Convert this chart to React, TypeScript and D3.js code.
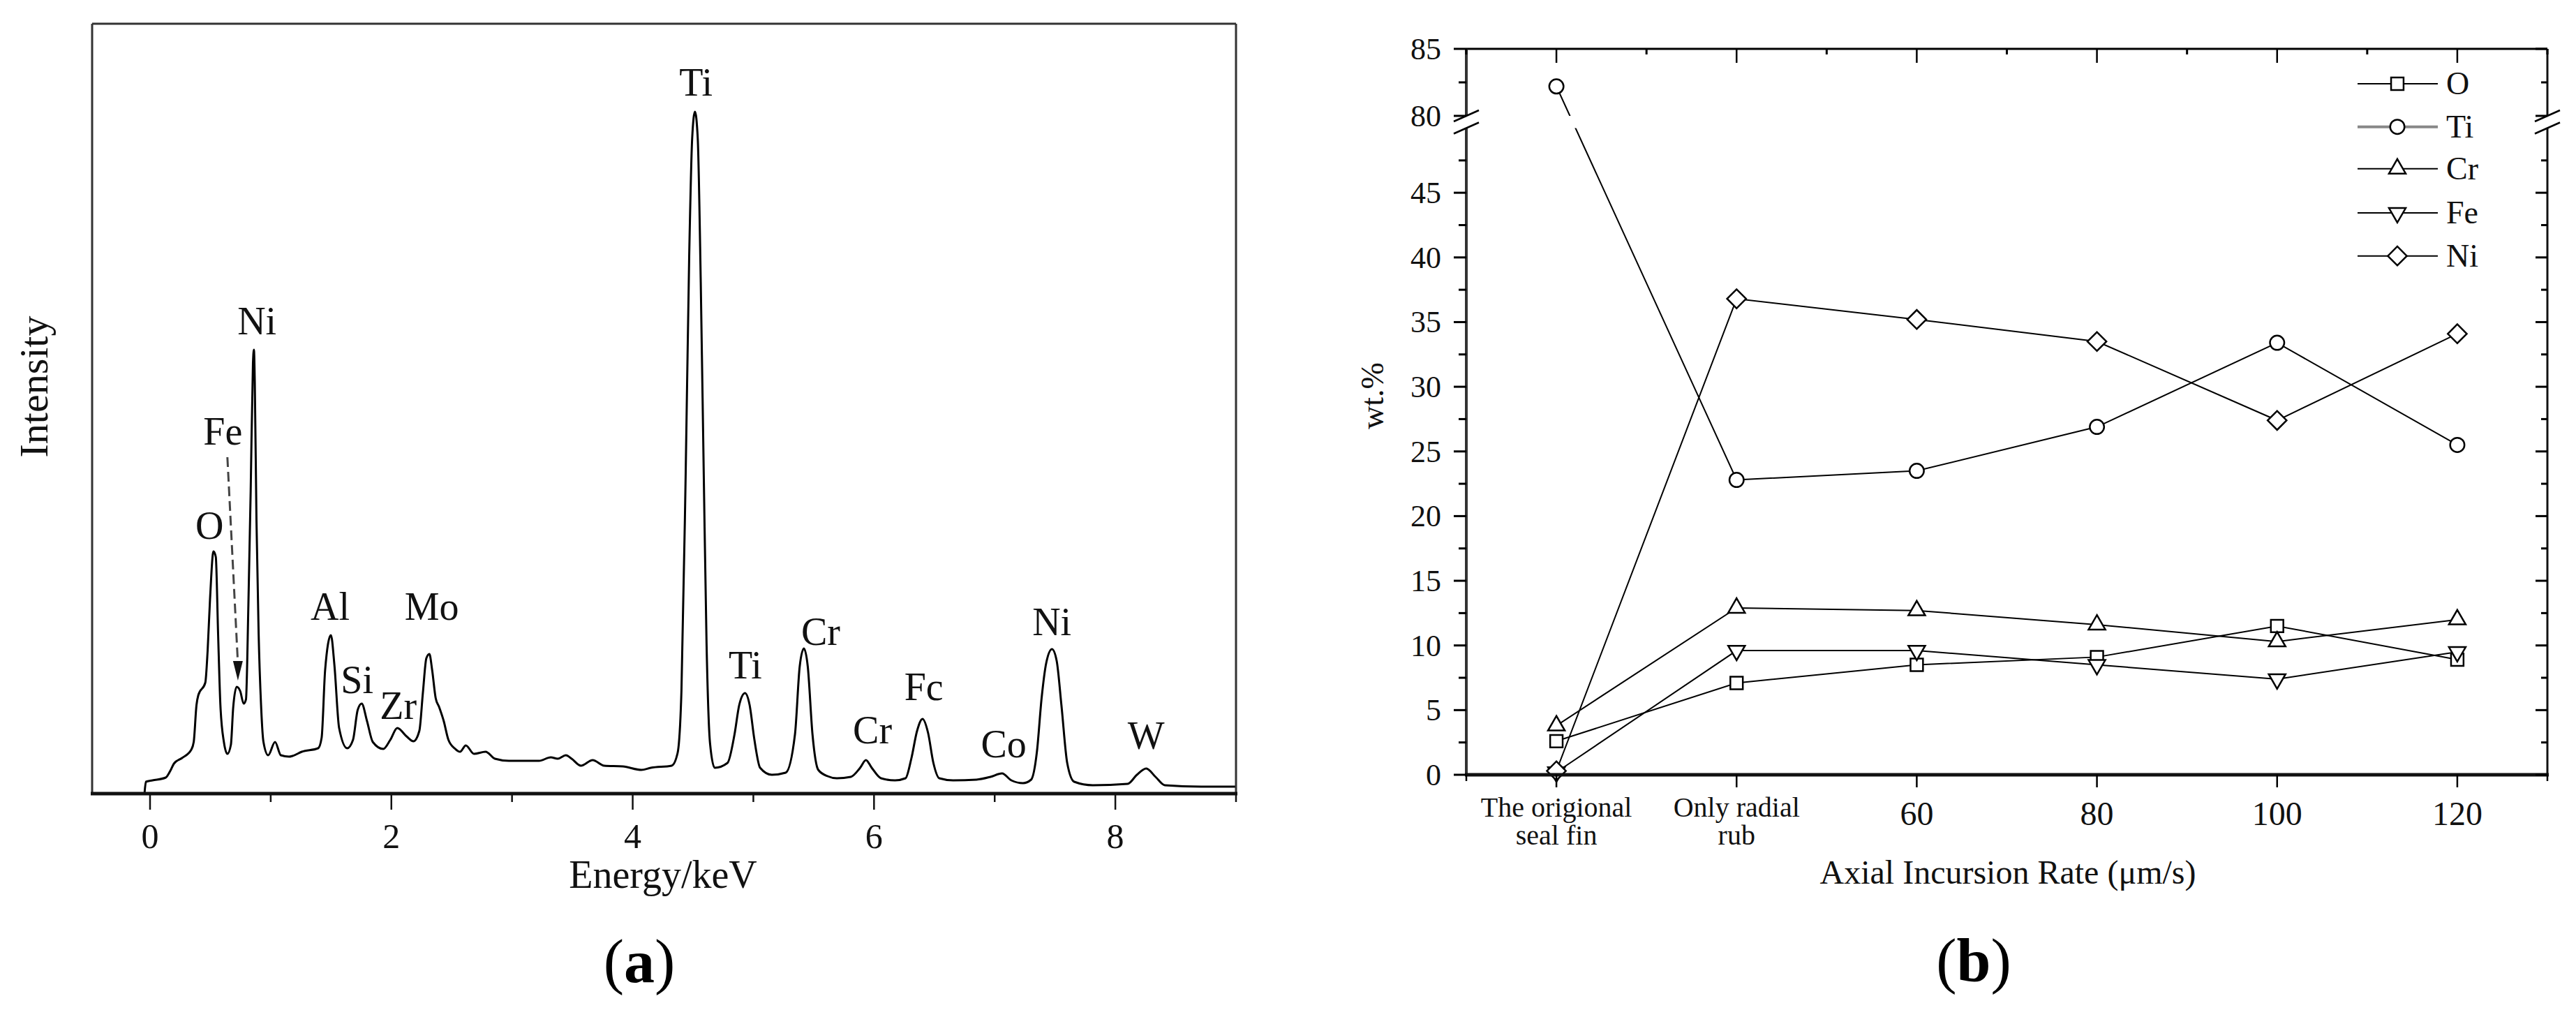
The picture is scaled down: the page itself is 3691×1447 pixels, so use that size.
import React from 'react';
import * as d3 from 'd3';

// ---------------- Panel (a): EDS spectrum ----------------
const spectrum: [number, number][] = [
  [-0.045, 2], [-0.034, 17], [0.02, 19], [0.13, 23], [0.169, 33], [0.198, 43], [0.265, 51],
  [0.342, 63], [0.362, 74], [0.385, 127], [0.4, 141], [0.458, 159], [0.477, 204], [0.497, 278],
  [0.526, 347], [0.545, 339], [0.564, 229], [0.583, 127], [0.612, 74], [0.641, 57], [0.67, 70],
  [0.689, 123], [0.718, 153], [0.747, 147], [0.776, 129], [0.795, 135], [0.815, 270], [0.834, 433],
  [0.853, 617], [0.861, 636], [0.868, 590], [0.882, 392], [0.9, 229], [0.92, 127], [0.94, 74],
  [0.979, 55], [1.036, 74], [1.084, 55], [1.152, 53], [1.181, 54], [1.258, 60], [1.393, 65],
  [1.422, 80], [1.451, 177], [1.499, 227], [1.528, 184], [1.567, 94], [1.634, 65], [1.682, 77],
  [1.721, 120], [1.754, 129], [1.798, 104], [1.846, 74], [1.933, 64], [1.991, 77], [2.049, 94],
  [2.126, 82], [2.183, 75], [2.232, 90], [2.261, 144], [2.29, 194], [2.315, 200], [2.338, 177],
  [2.367, 137], [2.396, 124], [2.434, 104], [2.473, 77], [2.53, 64], [2.569, 60], [2.617, 69],
  [2.685, 57], [2.781, 60], [2.858, 50], [2.974, 47], [3.109, 47], [3.224, 47], [3.321, 52],
  [3.379, 50], [3.446, 55], [3.494, 50], [3.571, 40], [3.668, 48], [3.764, 40], [3.918, 39],
  [4.073, 34], [4.15, 37], [4.323, 40], [4.372, 58], [4.404, 147], [4.439, 457], [4.468, 767],
  [4.493, 939], [4.516, 977], [4.539, 939], [4.564, 733], [4.589, 457], [4.612, 216], [4.641, 72],
  [4.68, 37], [4.786, 44], [4.844, 85], [4.883, 127], [4.931, 144], [4.969, 127], [5.008, 78],
  [5.056, 37], [5.153, 27], [5.268, 30], [5.345, 85], [5.384, 182], [5.419, 208], [5.451, 182],
  [5.49, 85], [5.538, 34], [5.615, 25], [5.692, 22], [5.808, 24], [5.885, 37], [5.933, 48],
  [5.981, 37], [6.058, 22], [6.174, 19], [6.261, 22], [6.309, 50], [6.357, 90], [6.402, 107],
  [6.448, 87], [6.492, 44], [6.541, 22], [6.656, 19], [6.849, 20], [6.965, 24], [7.061, 29],
  [7.138, 19], [7.235, 15], [7.302, 20], [7.35, 60], [7.389, 137], [7.427, 187], [7.475, 207],
  [7.514, 190], [7.553, 127], [7.601, 44], [7.659, 17], [7.813, 12], [8.102, 14], [8.179, 27],
  [8.256, 36], [8.333, 24], [8.41, 12], [8.711, 10], [9.0, 10],
];
const energyTicks = [0, 2, 4, 6, 8];
const energyMinorTicks = [1, 3, 5, 7, 9];
const peakLabels: { text: string; e: number; i: number }[] = [
  { text: 'O', e: 0.493, i: 365 },
  { text: 'Fe', e: 0.603, i: 500 },
  { text: 'Ni', e: 0.886, i: 658 },
  { text: 'Al', e: 1.492, i: 249 },
  { text: 'Si', e: 1.716, i: 144 },
  { text: 'Zr', e: 2.057, i: 107 },
  { text: 'Mo', e: 2.335, i: 249 },
  { text: 'Ti', e: 4.524, i: 1000 },
  { text: 'Ti', e: 4.933, i: 165 },
  { text: 'Cr', e: 5.558, i: 213 },
  { text: 'Cr', e: 5.987, i: 72 },
  { text: 'Fc', e: 6.413, i: 134 },
  { text: 'Co', e: 7.075, i: 52 },
  { text: 'Ni', e: 7.474, i: 227 },
  { text: 'W', e: 8.255, i: 64 },
];
const feArrowStart: [number, number] = [0.641, 482];
const feArrowBase: [number, number] = [0.727, 190];
const feArrowTip: [number, number] = [0.728, 162];

// ---------------- Panel (b): composition ----------------
const categories: string[][] = [
  ['The origional', 'seal fin'],
  ['Only radial', 'rub'],
  ['60'],
  ['80'],
  ['100'],
  ['120'],
];
const seriesNames = ['O', 'Ti', 'Cr', 'Fe', 'Ni'];
const oValues = [2.6, 7.1, 8.5, 9.1, 11.5, 8.9];
const tiValues = [82.2, 22.8, 23.5, 26.9, 33.4, 25.5];
const crValues = [3.8, 12.9, 12.7, 11.6, 10.3, 12.0];
const feValues = [0.2, 9.6, 9.6, 8.5, 7.4, 9.5];
const niValues = [0.3, 36.8, 35.2, 33.5, 27.4, 34.1];
const lowerTickLabels = [0, 5, 10, 15, 20, 25, 30, 35, 40, 45];
const lowerMinorTicks = [2.5, 7.5, 12.5, 17.5, 22.5, 27.5, 32.5, 37.5, 42.5, 47.5];
const upperTickLabels = [80, 85];
const upperMinorTicks = [82.5];

const FONT = '"Liberation Serif", "Times New Roman", serif';

export default function App() {
  // scales (a)
  const xA = d3.scaleLinear().domain([-0.48, 9]).range([132, 1771]);
  const yA = d3.scaleLinear().domain([0, 1103]).range([1137, 34]);
  const specLine = d3
    .line<[number, number]>()
    .x((d) => xA(d[0]))
    .y((d) => yA(d[1]))
    .curve(d3.curveMonotoneX);

  // scales (b)
  const xB = d3.scaleLinear().domain([-0.5, 5.5]).range([2101, 3650]);
  const yLow = d3.scaleLinear().domain([0, 50]).range([1110, 183.5]);
  const yUp = d3.scaleLinear().domain([80, 85]).range([166, 70]);
  const yB = (v: number) => (v >= 65 ? yUp(v) : yLow(v));
  const [bx0, bx1] = xB.range();
  const bTop = yUp(85);
  const bBot = yLow(0);
  const gapTop = yUp(80);
  const gapBot = yLow(50);

  const series = [oValues, tiValues, crValues, feValues, niValues];
  const markerTypes = ['square', 'circle', 'tri', 'tridown', 'diamond'];
  const lineGen = d3
    .line<number>()
    .x((_, i) => xB(i))
    .y((d) => yB(d));

  const markerPath = (t: string) => {
    if (t === 'square') return d3.symbol().type(d3.symbolSquare).size(320)()!;
    if (t === 'circle') return d3.symbol().type(d3.symbolCircle).size(330)()!;
    if (t === 'tri' || t === 'tridown') return d3.symbol().type(d3.symbolTriangle).size(250)()!;
    return d3.symbol().type(d3.symbolSquare).size(370)()!;
  };
  const markerRot = (t: string) => (t === 'tridown' ? 180 : t === 'diamond' ? 45 : 0);
  const Marker = ({ t, x, y }: { t: string; x: number; y: number }) => (
    <path
      d={markerPath(t)}
      transform={`translate(${x},${y}) rotate(${markerRot(t)})`}
      fill="#fff"
      stroke="#000"
      strokeWidth={2.5}
    />
  );

  const legendRows = [120, 181.7, 241.7, 305, 366.7];

  const tipX = xA(feArrowTip[0]);
  const tipY = yA(feArrowTip[1]);
  const baseY = yA(feArrowBase[1]);

  return (
    <svg
      width={3691}
      height={1447}
      style={{ position: 'absolute', left: 0, top: 0, background: '#fff' }}
      fontFamily={FONT}
    >
      <rect x={0} y={0} width={3691} height={1447} fill="#fff" />
      {/* ================= Panel (a) ================= */}
      <g>
        <path d={specLine(spectrum)!} fill="none" stroke="#000" strokeWidth={3} strokeLinejoin="round" />
        {/* box */}
        <line x1={132} x2={1771} y1={34} y2={34} stroke="#333" strokeWidth={3} />
        <line x1={132} x2={132} y1={34} y2={1137} stroke="#333" strokeWidth={3} />
        <line x1={1771} x2={1771} y1={34} y2={1137} stroke="#333" strokeWidth={3} />
        <line x1={130} x2={1773} y1={1137} y2={1137} stroke="#111" strokeWidth={5} />
        {energyTicks.map((t) => (
          <g key={'ea' + t}>
            <line x1={xA(t)} x2={xA(t)} y1={1137} y2={1160} stroke="#111" strokeWidth={2.5} />
            <text x={xA(t)} y={1215} fontSize={50} textAnchor="middle" fill="#111">
              {t}
            </text>
          </g>
        ))}
        {energyMinorTicks.map((t) => (
          <line key={'em' + t} x1={xA(t)} x2={xA(t)} y1={1137} y2={1149} stroke="#111" strokeWidth={2.5} />
        ))}
        <text x={950} y={1272} fontSize={56} textAnchor="middle" fill="#111">
          Energy/keV
        </text>
        <text
          transform={`translate(68,554) rotate(-90)`}
          fontSize={58}
          textAnchor="middle"
          fill="#111"
        >
          Intensity
        </text>
        {peakLabels.map((p, k) => (
          <text key={'pl' + k} x={xA(p.e)} y={yA(p.i)} fontSize={56} textAnchor="middle" fill="#111">
            {p.text}
          </text>
        ))}
        {/* Fe dashed arrow */}
        <line
          x1={xA(feArrowStart[0])}
          y1={yA(feArrowStart[1])}
          x2={xA(feArrowBase[0])}
          y2={baseY}
          stroke="#444"
          strokeWidth={3}
          strokeDasharray="14 7"
        />
        <path d={`M${tipX},${tipY} L${tipX - 7},${baseY} L${tipX + 7},${baseY} Z`} fill="#111" />
        <text x={916} y={1407} fontSize={88} textAnchor="middle" fill="#000">
          (<tspan fontWeight="bold">a</tspan>)
        </text>
      </g>

      {/* ================= Panel (b) ================= */}
      <defs>
        <clipPath id="bclip">
          <rect x={bx0} y={bTop} width={bx1 - bx0} height={gapTop - bTop} />
          <rect x={bx0} y={gapBot} width={bx1 - bx0} height={bBot - gapBot} />
        </clipPath>
      </defs>
      <g>
        <g clipPath="url(#bclip)">
          {series.map((s, k) => (
            <path key={'ln' + k} d={lineGen(s)!} fill="none" stroke="#000" strokeWidth={2} />
          ))}
        </g>
        {series.map((s, k) =>
          s.map((v, i) => <Marker key={`m${k}-${i}`} t={markerTypes[k]} x={xB(i)} y={yB(v)} />)
        )}
        {/* frame */}
        <line x1={bx0} x2={bx1} y1={bTop} y2={bTop} stroke="#000" strokeWidth={3} />
        <line x1={bx0} x2={bx0} y1={bTop} y2={gapTop} stroke="#333" strokeWidth={4} />
        <line x1={bx0} x2={bx0} y1={gapBot} y2={bBot} stroke="#333" strokeWidth={4} />
        <line x1={bx1} x2={bx1} y1={bTop} y2={gapTop} stroke="#111" strokeWidth={3} />
        <line x1={bx1} x2={bx1} y1={gapBot} y2={bBot} stroke="#111" strokeWidth={3} />
        <line x1={bx0 - 2} x2={bx1 + 2} y1={bBot} y2={bBot} stroke="#111" strokeWidth={5} />
        {/* break marks */}
        {[bx0, bx1].map((bx) =>
          [gapTop, gapBot].map((gy) => (
            <line
              key={`br${bx}-${gy}`}
              x1={bx - 18}
              y1={gy + 8}
              x2={bx + 18}
              y2={gy - 8}
              stroke="#000"
              strokeWidth={2.5}
            />
          ))
        )}
        {/* y ticks */}
        {[...lowerTickLabels.map((v) => ({ v, y: yLow(v) })), ...upperTickLabels.map((v) => ({ v, y: yUp(v) }))].map(
          ({ v, y }) => (
            <g key={'yt' + v}>
              <line x1={bx0 - 18} x2={bx0} y1={y} y2={y} stroke="#000" strokeWidth={3} />
              <line x1={bx1 - 17} x2={bx1} y1={y} y2={y} stroke="#000" strokeWidth={3} />
              <text x={2065} y={y + 15} fontSize={44} textAnchor="end" fill="#111">
                {v}
              </text>
            </g>
          )
        )}
        {[...lowerMinorTicks.map((v) => yLow(v)), ...upperMinorTicks.map((v) => yUp(v))].map((y, k) => (
          <g key={'ym' + k}>
            <line x1={bx0 - 11} x2={bx0} y1={y} y2={y} stroke="#000" strokeWidth={3} />
            <line x1={bx1 - 9} x2={bx1} y1={y} y2={y} stroke="#000" strokeWidth={3} />
          </g>
        ))}
        {/* x ticks */}
        {categories.map((c, i) => (
          <g key={'xc' + i}>
            <line x1={xB(i)} x2={xB(i)} y1={bBot} y2={bBot + 18} stroke="#000" strokeWidth={2.5} />
            <line x1={xB(i)} x2={xB(i)} y1={bTop} y2={bTop + 20} stroke="#000" strokeWidth={2.5} />
            {c.length === 2 ? (
              <>
                <text x={xB(i)} y={1170} fontSize={40} textAnchor="middle" fill="#111">
                  {c[0]}
                </text>
                <text x={xB(i)} y={1210} fontSize={40} textAnchor="middle" fill="#111">
                  {c[1]}
                </text>
              </>
            ) : (
              <text x={xB(i)} y={1182} fontSize={48} textAnchor="middle" fill="#111">
                {c[0]}
              </text>
            )}
          </g>
        ))}
        {d3.range(-0.5, 5.6, 1).map((h) => (
          <g key={'xh' + h}>
            <line x1={xB(h)} x2={xB(h)} y1={bTop} y2={bTop + 8} stroke="#000" strokeWidth={3} />
            {(h < 0 || h > 5) && (
              <line x1={xB(h)} x2={xB(h)} y1={bBot} y2={bBot + 9} stroke="#000" strokeWidth={2.5} />
            )}
          </g>
        ))}
        <text x={2877} y={1266} fontSize={48} textAnchor="middle" fill="#111">
          Axial Incursion Rate (μm/s)
        </text>
        <text transform={`translate(1982,567) rotate(-90)`} fontSize={46} textAnchor="middle" fill="#111">
          wt.%
        </text>
        {/* legend */}
        {seriesNames.map((n, k) => (
          <g key={'lg' + n}>
            <line
              x1={3378}
              x2={3493}
              y1={legendRows[k]}
              y2={legendRows[k]}
              stroke={n === 'Ti' ? '#888' : '#000'}
              strokeWidth={n === 'Ti' ? 4 : 2}
            />
            <Marker t={markerTypes[k]} x={3435} y={legendRows[k]} />
            <text x={3505} y={legendRows[k] + 15} fontSize={46} fill="#111">
              {n}
            </text>
          </g>
        ))}
        <text x={2828} y={1406} fontSize={88} textAnchor="middle" fill="#000">
          (<tspan fontWeight="bold">b</tspan>)
        </text>
      </g>
    </svg>
  );
}
